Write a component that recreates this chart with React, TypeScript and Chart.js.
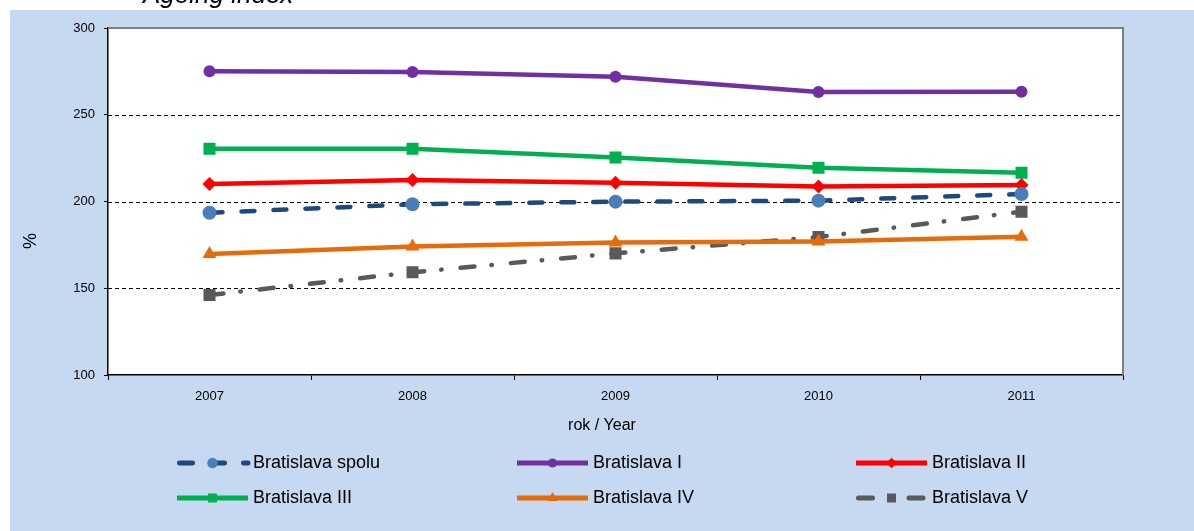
import React, { useEffect, useRef } from 'react';
import { Chart, registerables } from 'chart.js';
import { drawPoint } from 'chart.js/helpers';

Chart.register(...registerables);

const years = ['2007', '2008', '2009', '2010', '2011'];
const seriesNames = ['Bratislava spolu', 'Bratislava I', 'Bratislava II', 'Bratislava III', 'Bratislava IV', 'Bratislava V'];
const spolu = [193.5, 198.4, 199.9, 200.5, 204.3];
const bI = [275.1, 274.7, 271.9, 263.1, 263.2];
const bII = [210.1, 212.4, 210.8, 208.7, 209.5];
const bIII = [230.4, 230.4, 225.3, 219.5, 216.6];
const bIV = [169.7, 174.1, 176.3, 176.9, 179.7];
const bV = [146.1, 159.2, 170.1, 179.5, 194.1];
const yMin = 100;
const yMax = 300;
const yStep = 50;
const gridValues = [150, 200, 250];
const titleText = 'Ageing index';
const xTitle = 'rok / Year';
const yTitle = '%';

const BLUE_BG = '#C6D9F1';
const SANS = "'Liberation Sans', Arial, sans-serif";

const styles = [
  { color: '#1F497D', point: '#4A7EBB', style: 'circle', r: 7, dash: [13, 19] },
  { color: '#7030A0', point: '#7030A0', style: 'circle', r: 6, dash: [] },
  { color: '#FF0000', point: '#FF0000', style: 'rectRot', r: 7, dash: [] },
  { color: '#00B050', point: '#00B050', style: 'rect', r: 8.5, dash: [] },
  { color: '#E46C0A', point: '#E46C0A', style: 'triangle', r: 8, dash: [] },
  { color: '#595959', point: '#595959', style: 'rect', r: 8.5, dash: [14, 17, 0.5, 19] },
];

const seriesData = [spolu, bI, bII, bIII, bIV, bV];

const framePlugin = {
  id: 'frame',
  beforeDraw(chart: any) {
    const { ctx, chartArea, width, height } = chart;
    ctx.save();
    ctx.fillStyle = '#FFFFFF';
    ctx.fillRect(0, 0, width, height);
    ctx.fillStyle = BLUE_BG;
    ctx.fillRect(10, 10, width - 10, height - 10);
    ctx.fillStyle = '#FFFFFF';
    ctx.fillRect(chartArea.left, chartArea.top, chartArea.right - chartArea.left, chartArea.bottom - chartArea.top);
    ctx.fillStyle = '#000';
    ctx.font = `italic 26px ${SANS}`;
    ctx.textAlign = 'left';
    ctx.textBaseline = 'alphabetic';
    ctx.fillText(titleText, 143, 3);
    ctx.restore();
  },
  beforeDatasetsDraw(chart: any) {
    const { ctx, chartArea, scales } = chart;
    const y = scales.y;
    ctx.save();
    ctx.strokeStyle = '#000';
    ctx.lineWidth = 1;
    ctx.setLineDash([4, 3]);
    gridValues.forEach((v) => {
      const py = Math.round(y.getPixelForValue(v)) + 0.5;
      ctx.beginPath();
      ctx.moveTo(chartArea.left, py);
      ctx.lineTo(chartArea.right, py);
      ctx.stroke();
    });
    ctx.setLineDash([]);
    ctx.strokeStyle = '#808080';
    ctx.lineWidth = 2;
    ctx.beginPath();
    ctx.moveTo(chartArea.left, chartArea.top);
    ctx.lineTo(chartArea.right, chartArea.top);
    ctx.lineTo(chartArea.right, chartArea.bottom);
    ctx.stroke();
    ctx.restore();
  },
  afterDraw(chart: any) {
    const { ctx } = chart;
    ctx.save();
    ctx.fillStyle = '#000';
    ctx.font = `16px ${SANS}`;
    ctx.textAlign = 'center';
    ctx.textBaseline = 'middle';
    ctx.fillText(xTitle, 602, 426);
    ctx.save();
    ctx.translate(31, 241);
    ctx.rotate(-Math.PI / 2);
    ctx.font = `18px ${SANS}`;
    ctx.fillText(yTitle, 0, 0);
    ctx.restore();

    const colX = [177, 517, 856];
    const rowY = [463, 498];
    const sampleLen = 71;
    chart.data.datasets.forEach((ds: any, i: number) => {
      const st = styles[i];
      const x0 = colX[i % 3];
      const yy = rowY[Math.floor(i / 3)];
      ctx.save();
      ctx.strokeStyle = st.color;
      ctx.lineWidth = 5;
      ctx.lineCap = st.dash.length ? 'round' : 'butt';
      ctx.setLineDash(st.dash);
      ctx.beginPath();
      ctx.moveTo(x0 + (st.dash.length ? 2.5 : 0), yy);
      ctx.lineTo(x0 + sampleLen, yy);
      ctx.stroke();
      ctx.setLineDash([]);
      ctx.fillStyle = st.point;
      ctx.strokeStyle = st.point;
      drawPoint(ctx, { pointStyle: st.style, radius: st.r * 0.75, rotation: 0, borderWidth: 0 } as any, x0 + sampleLen / 2, yy);
      ctx.restore();
      ctx.fillStyle = '#000';
      ctx.font = `18px ${SANS}`;
      ctx.textAlign = 'left';
      ctx.textBaseline = 'middle';
      ctx.fillText(ds.label, x0 + sampleLen + 5, yy);
    });
    ctx.restore();
  },
};

export default function App() {
  const canvasRef = useRef<HTMLCanvasElement | null>(null);

  useEffect(() => {
    const canvas = canvasRef.current;
    if (!canvas) return;
    const datasets = seriesData.map((values, i) => {
      const st = styles[i];
      return {
        label: seriesNames[i],
        data: values,
        borderColor: st.color,
        backgroundColor: st.point,
        borderWidth: 4.5,
        borderDash: st.dash,
        borderCapStyle: st.dash.length ? 'round' : 'butt',
        pointStyle: st.style,
        pointRadius: st.r,
        pointBackgroundColor: st.point,
        pointBorderColor: st.point,
        pointBorderWidth: 0,
        tension: 0,
        fill: false,
      };
    });
    const chart = new Chart(canvas, {
      type: 'line',
      data: { labels: years, datasets: datasets as any },
      plugins: [framePlugin],
      options: {
        animation: false,
        responsive: false,
        devicePixelRatio: 1,
        layout: { padding: { left: 10, top: 28, right: 71, bottom: 126 } },
        plugins: {
          legend: { display: false },
          title: { display: false },
          tooltip: { enabled: false },
        },
        scales: {
          x: {
            type: 'category',
            offset: true,
            grid: {
              display: true,
              drawOnChartArea: false,
              drawTicks: true,
              tickLength: 5,
              tickColor: '#000',
              offset: true,
            },
            border: { display: true, color: '#000', width: 1.5 },
            ticks: {
              color: '#000',
              font: { family: SANS, size: 13 },
              padding: 9,
            },
            afterFit: (s: any) => {
              s.height = 30;
            },
          },
          y: {
            min: yMin,
            max: yMax,
            grid: {
              display: true,
              drawOnChartArea: false,
              drawTicks: true,
              tickLength: 4,
              tickColor: '#000',
            },
            border: { display: true, color: '#000', width: 1.5 },
            ticks: {
              stepSize: yStep,
              color: '#000',
              font: { family: SANS, size: 13 },
              padding: 9,
            },
            afterFit: (s: any) => {
              s.width = 98;
            },
          },
        },
      } as any,
    });
    return () => chart.destroy();
  }, []);

  return (
    <div style={{ position: 'absolute', left: 0, top: 0, width: 1194, height: 531 }}>
      <canvas ref={canvasRef} width={1194} height={531} style={{ width: 1194, height: 531, display: 'block' }} />
    </div>
  );
}
